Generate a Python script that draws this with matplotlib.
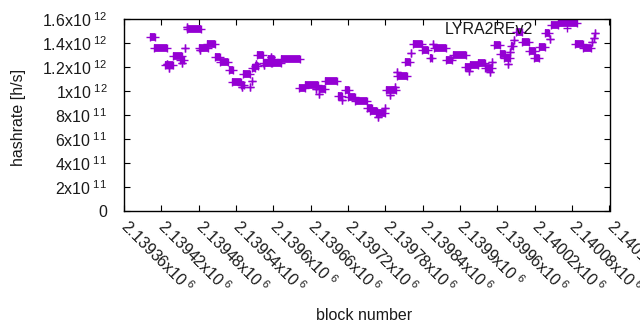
import matplotlib
matplotlib.use('Agg')
import matplotlib.pyplot as plt
from matplotlib.lines import Line2D
import numpy as np

# ── Style ─────────────────────────────────────────────────
plt.rcParams['font.family'] = ['Liberation Sans', 'DejaVu Sans']
plt.rcParams['mathtext.fontset'] = 'custom'
plt.rcParams['mathtext.rm'] = 'Liberation Sans'
plt.rcParams['mathtext.it'] = 'Liberation Sans:italic'
FS    = 11.5
COLOR = '#9400D3'

# ── Data: runs of blocks with (nearly) the same hashrate ──
block_start = [2139401, 2139409, 2139426, 2139429, 2139433, 2139438, 2139450, 2139453,
               2139458, 2139461, 2139462, 2139481, 2139482, 2139494, 2139506, 2139514,
               2139528, 2139534, 2139548, 2139549, 2139551, 2139563, 2139566, 2139566,
               2139571, 2139572, 2139573, 2139583, 2139585, 2139592, 2139596, 2139598,
               2139612, 2139641, 2139651, 2139668, 2139673, 2139673, 2139683, 2139704,
               2139711, 2139715, 2139720, 2139731, 2139750, 2139755, 2139765, 2139779,
               2139768, 2139781, 2139788, 2139796, 2139798, 2139799, 2139812, 2139821,
               2139824, 2139838, 2139851, 2139857, 2139858, 2139878, 2139888, 2139908,
               2139915, 2139916, 2139929, 2139940, 2139948, 2139952, 2139955, 2139964,
               2139971, 2139977, 2139980, 2139981, 2139987, 2139989, 2139999, 2140010,
               2140018, 2140027, 2140036, 2140045, 2140046, 2140058, 2140085, 2140098,
               2140112, 2140115, 2140117]
block_end   = [2139410, 2139429, 2139439, 2139429, 2139433, 2139453, 2139457, 2139453,
               2139458, 2139461, 2139483, 2139495, 2139482, 2139507, 2139514, 2139527,
               2139535, 2139548, 2139553, 2139549, 2139562, 2139563, 2139566, 2139571,
               2139576, 2139572, 2139584, 2139596, 2139585, 2139601, 2139596, 2139612,
               2139643, 2139651, 2139671, 2139668, 2139683, 2139673, 2139703, 2139711,
               2139711, 2139721, 2139731, 2139750, 2139758, 2139766, 2139779, 2139779,
               2139768, 2139797, 2139788, 2139796, 2139814, 2139799, 2139819, 2139821,
               2139838, 2139849, 2139855, 2139857, 2139877, 2139887, 2139909, 2139916,
               2139915, 2139929, 2139940, 2139951, 2139948, 2139952, 2139964, 2139972,
               2139980, 2139977, 2139980, 2139985, 2139987, 2139999, 2140010, 2140020,
               2140027, 2140036, 2140043, 2140045, 2140058, 2140087, 2140098, 2140111,
               2140112, 2140115, 2140117]
hashrate_e11 = [14.5, 13.6, 12.15, 12.25, 11.95, 12.9, 12.55, 12.3,
                13.56, 15.36, 15.17, 13.56, 13.44, 13.89, 12.81, 12.39,
                11.74, 10.78, 10.53, 10.36, 11.39, 10.31, 10.84, 11.95,
                12.1, 12.25, 13.0, 12.35, 12.17, 12.64, 12.86, 12.36,
                12.64, 10.22, 10.48, 10.2, 10.16, 9.72, 10.82, 9.58,
                9.25, 10.06, 9.5, 9.15, 8.58, 8.35, 8.14, 8.6,
                7.86, 10.08, 9.67, 10.36, 11.25, 11.58, 12.42, 13.14,
                13.89, 13.45, 12.72, 13.95, 13.56, 12.58, 12.98, 12.0,
                11.67, 12.2, 12.36, 11.89, 11.6, 12.44, 13.83, 13.08,
                12.72, 12.22, 13.25, 13.72, 14.28, 14.9, 14.06, 13.33,
                12.72, 13.64, 14.81, 14.31, 15.5, 15.64, 13.89, 13.56,
                14.11, 14.45, 14.81]

# ── Axis ticks ────────────────────────────────────────────
x_ticks  = [2139360 + 60 * i for i in range(14)]
x_labels = ['2.13936', '2.13942', '2.13948', '2.13954', '2.1396', '2.13966', '2.13972',
            '2.13978', '2.13984', '2.1399', '2.13996', '2.14002', '2.14008', '2.14014']
y_ticks  = [0, 2e11, 4e11, 6e11, 8e11, 1e12, 1.2e12, 1.4e12, 1.6e12]
y_labels = ['0', '2x10', '4x10', '6x10', '8x10', '1x10', '1.2x10', '1.4x10', '1.6x10']
y_exps   = ['', '11', '11', '11', '11', '12', '12', '12', '12']

xs = np.array(block_start)
xe = np.array(block_end)
ys = np.array(hashrate_e11) * 1e11

# ── Plot ──────────────────────────────────────────────────
fig = plt.figure(figsize=(6.4, 3.3), dpi=100)
ax = fig.add_axes([124 / 640, 1 - 211 / 330, 485.5 / 640, 192 / 330])

MS = 5.6
runs = xe > xs
ax.hlines(ys[runs], xs[runs], xe[runs], color=COLOR, linewidth=MS, capstyle='butt')
ax.plot(np.concatenate([xs, xe]), np.concatenate([ys, ys]), ls='none', marker='+',
        ms=MS, mew=1.0, color=COLOR)

ax.set_xlim(2139360, 2140140)
ax.set_ylim(0, 1.6e12)

ax.set_xticks(x_ticks)
ax.set_xticklabels([r'%sx10$^{\ 6}$' % s for s in x_labels], rotation=-45,
                   ha='left', va='center', rotation_mode='anchor', fontsize=FS)
ax.set_yticks(y_ticks)
ax.set_yticklabels([r'%s$^{\ %s}$' % (s, e) if e else s for s, e in zip(y_labels, y_exps)],
                   fontsize=FS)
ax.tick_params(direction='in', length=4, width=0.8, top=True, right=True,
               colors='black', labelcolor='#1a1a1a')
ax.tick_params(axis='y', pad=12)
ax.tick_params(axis='x', pad=9)
for sp in ax.spines.values():
    sp.set_linewidth(1.0)

ax.set_ylabel('hashrate [h/s]', fontsize=FS, color='#1a1a1a')
ax.yaxis.set_label_coords(-0.202, 0.487)
ax.set_xlabel('block number', fontsize=FS, color='#1a1a1a')
ax.xaxis.set_label_coords(0.494, -0.505)

key = Line2D([], [], ls='none', marker='+', ms=MS, mew=1.0, color=COLOR)
ax.legend([key], ['LYRA2REv2'], loc='upper right', bbox_to_anchor=(0.945, 0.985),
          frameon=False, markerfirst=False, handlelength=2, handletextpad=1.1,
          borderpad=0, borderaxespad=0, fontsize=FS, labelcolor='#1a1a1a')

plt.savefig('out.png', dpi=100)
